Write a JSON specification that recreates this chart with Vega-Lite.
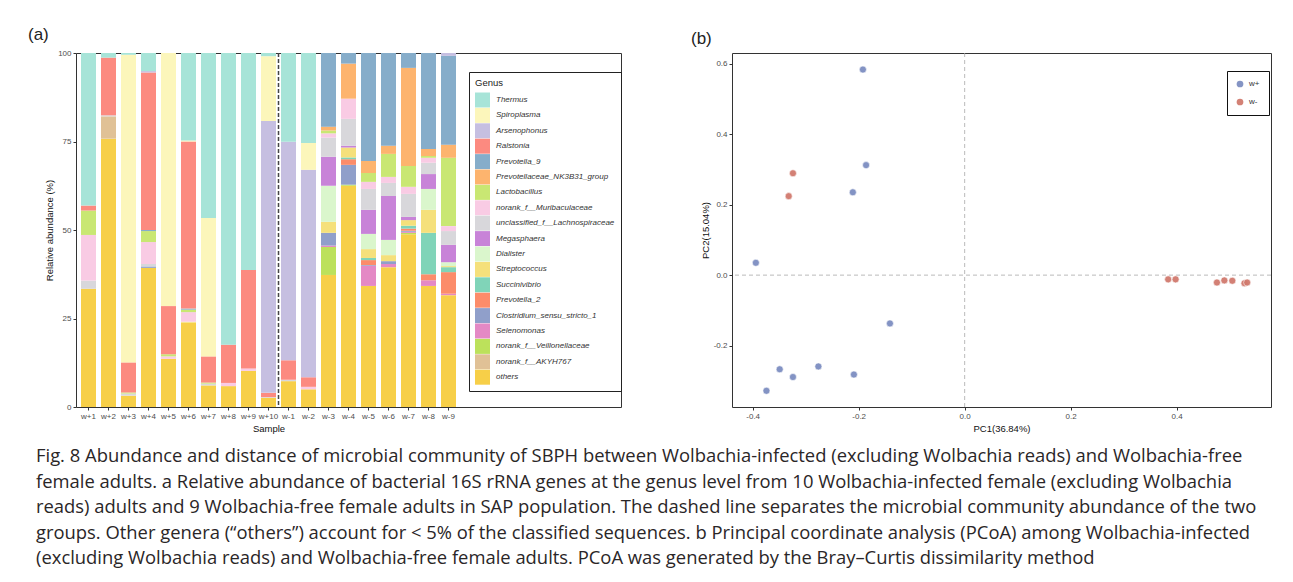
{
  "$schema": "https://vega.github.io/schema/vega-lite/v6.json",
  "padding": {"left": 27, "top": 25, "right": 18, "bottom": 2},
  "background": "white",
  "config": {
    "font": "Liberation Sans",
    "view": {"stroke": "#333333", "strokeWidth": 1},
    "axis": {"domain": false, "grid": false, "tickColor": "#333333", "tickSize": 3, "labelColor": "#4D4D4D", "labelFontSize": 8, "titleFontSize": 9.5, "titleFontWeight": "normal", "titleColor": "#111111", "labelPadding": 2, "titlePadding": 3, "labelOverlap": false},
    "title": {"fontWeight": "normal"}
  },
  "title": {
    "text": [
      "Fig. 8 Abundance and distance of microbial community of SBPH between Wolbachia-infected (excluding Wolbachia reads) and Wolbachia-free",
      "female adults. a Relative abundance of bacterial 16S rRNA genes at the genus level from 10 Wolbachia-infected female (excluding Wolbachia",
      "reads) adults and 9 Wolbachia-free female adults in SAP population. The dashed line separates the microbial community abundance of the two",
      "groups. Other genera (“others”) account for < 5% of the classified sequences. b Principal coordinate analysis (PCoA) among Wolbachia-infected",
      "(excluding Wolbachia reads) and Wolbachia-free female adults. PCoA was generated by the Bray–Curtis dissimilarity method"
    ],
    "orient": "bottom", "anchor": "start", "frame": "group", "dx": -40, "offset": 14,
    "font": "Open Sans", "fontSize": 18.4, "lineHeight": 25.6, "color": "#2A2627", "fontWeight": "normal"
  },
  "datasets": {
    "bars": [
      {"sample": "w+1", "genus": "others", "abundance": 33.4},
      {"sample": "w+1", "genus": "unclassified_f__Lachnospiraceae", "abundance": 2.3},
      {"sample": "w+1", "genus": "norank_f__Muribaculaceae", "abundance": 12.9},
      {"sample": "w+1", "genus": "Lactobacillus", "abundance": 6.9},
      {"sample": "w+1", "genus": "Ralstonia", "abundance": 1.4},
      {"sample": "w+1", "genus": "Thermus", "abundance": 43.1},
      {"sample": "w+2", "genus": "others", "abundance": 75.8},
      {"sample": "w+2", "genus": "norank_f__AKYH767", "abundance": 6.3},
      {"sample": "w+2", "genus": "unclassified_f__Lachnospiraceae", "abundance": 0.3},
      {"sample": "w+2", "genus": "Ralstonia", "abundance": 16.3},
      {"sample": "w+2", "genus": "Thermus", "abundance": 1.3},
      {"sample": "w+3", "genus": "others", "abundance": 3.2},
      {"sample": "w+3", "genus": "unclassified_f__Lachnospiraceae", "abundance": 0.6},
      {"sample": "w+3", "genus": "Lactobacillus", "abundance": 0.3},
      {"sample": "w+3", "genus": "Ralstonia", "abundance": 8.5},
      {"sample": "w+3", "genus": "Spiroplasma", "abundance": 86.9},
      {"sample": "w+3", "genus": "Thermus", "abundance": 0.5},
      {"sample": "w+4", "genus": "others", "abundance": 39.3},
      {"sample": "w+4", "genus": "Clostridium_sensu_stricto_1", "abundance": 0.4},
      {"sample": "w+4", "genus": "unclassified_f__Lachnospiraceae", "abundance": 0.7},
      {"sample": "w+4", "genus": "norank_f__Muribaculaceae", "abundance": 6.2},
      {"sample": "w+4", "genus": "Lactobacillus", "abundance": 3.1},
      {"sample": "w+4", "genus": "Prevotella_9", "abundance": 0.3},
      {"sample": "w+4", "genus": "Ralstonia", "abundance": 44.5},
      {"sample": "w+4", "genus": "Arsenophonus", "abundance": 0.4},
      {"sample": "w+4", "genus": "Thermus", "abundance": 5.1},
      {"sample": "w+5", "genus": "others", "abundance": 13.6},
      {"sample": "w+5", "genus": "norank_f__Muribaculaceae", "abundance": 0.7},
      {"sample": "w+5", "genus": "Lactobacillus", "abundance": 0.6},
      {"sample": "w+5", "genus": "Ralstonia", "abundance": 13.6},
      {"sample": "w+5", "genus": "Spiroplasma", "abundance": 71.5},
      {"sample": "w+6", "genus": "others", "abundance": 23.8},
      {"sample": "w+6", "genus": "Streptococcus", "abundance": 0.3},
      {"sample": "w+6", "genus": "norank_f__Muribaculaceae", "abundance": 2.7},
      {"sample": "w+6", "genus": "Lactobacillus", "abundance": 0.7},
      {"sample": "w+6", "genus": "Prevotella_9", "abundance": 0.3},
      {"sample": "w+6", "genus": "Ralstonia", "abundance": 47.2},
      {"sample": "w+6", "genus": "Spiroplasma", "abundance": 0.3},
      {"sample": "w+6", "genus": "Thermus", "abundance": 24.7},
      {"sample": "w+7", "genus": "others", "abundance": 6.1},
      {"sample": "w+7", "genus": "unclassified_f__Lachnospiraceae", "abundance": 0.5},
      {"sample": "w+7", "genus": "Lactobacillus", "abundance": 0.3},
      {"sample": "w+7", "genus": "Ralstonia", "abundance": 7.4},
      {"sample": "w+7", "genus": "Spiroplasma", "abundance": 39.1},
      {"sample": "w+7", "genus": "Thermus", "abundance": 46.6},
      {"sample": "w+8", "genus": "others", "abundance": 5.9},
      {"sample": "w+8", "genus": "norank_f__Muribaculaceae", "abundance": 0.9},
      {"sample": "w+8", "genus": "Ralstonia", "abundance": 10.8},
      {"sample": "w+8", "genus": "Thermus", "abundance": 82.4},
      {"sample": "w+9", "genus": "others", "abundance": 10.2},
      {"sample": "w+9", "genus": "norank_f__Muribaculaceae", "abundance": 0.7},
      {"sample": "w+9", "genus": "Ralstonia", "abundance": 27.8},
      {"sample": "w+9", "genus": "Thermus", "abundance": 61.3},
      {"sample": "w+10", "genus": "others", "abundance": 2.6},
      {"sample": "w+10", "genus": "unclassified_f__Lachnospiraceae", "abundance": 0.2},
      {"sample": "w+10", "genus": "Ralstonia", "abundance": 1.2},
      {"sample": "w+10", "genus": "Arsenophonus", "abundance": 76.8},
      {"sample": "w+10", "genus": "Spiroplasma", "abundance": 18.3},
      {"sample": "w+10", "genus": "Thermus", "abundance": 0.9},
      {"sample": "w-1", "genus": "others", "abundance": 7.3},
      {"sample": "w-1", "genus": "unclassified_f__Lachnospiraceae", "abundance": 0.4},
      {"sample": "w-1", "genus": "Ralstonia", "abundance": 5.5},
      {"sample": "w-1", "genus": "Arsenophonus", "abundance": 61.7},
      {"sample": "w-1", "genus": "Thermus", "abundance": 25.1},
      {"sample": "w-2", "genus": "others", "abundance": 5.0},
      {"sample": "w-2", "genus": "norank_f__Muribaculaceae", "abundance": 0.7},
      {"sample": "w-2", "genus": "Ralstonia", "abundance": 2.7},
      {"sample": "w-2", "genus": "Arsenophonus", "abundance": 58.6},
      {"sample": "w-2", "genus": "Spiroplasma", "abundance": 7.6},
      {"sample": "w-2", "genus": "Thermus", "abundance": 25.4},
      {"sample": "w-3", "genus": "others", "abundance": 37.3},
      {"sample": "w-3", "genus": "norank_f__Veillonellaceae", "abundance": 7.9},
      {"sample": "w-3", "genus": "Selenomonas", "abundance": 0.4},
      {"sample": "w-3", "genus": "Clostridium_sensu_stricto_1", "abundance": 3.6},
      {"sample": "w-3", "genus": "Streptococcus", "abundance": 3.1},
      {"sample": "w-3", "genus": "Dialister", "abundance": 10.2},
      {"sample": "w-3", "genus": "Megasphaera", "abundance": 8.2},
      {"sample": "w-3", "genus": "unclassified_f__Lachnospiraceae", "abundance": 5.4},
      {"sample": "w-3", "genus": "norank_f__Muribaculaceae", "abundance": 1.2},
      {"sample": "w-3", "genus": "Lactobacillus", "abundance": 0.8},
      {"sample": "w-3", "genus": "Prevotellaceae_NK3B31_group", "abundance": 1.1},
      {"sample": "w-3", "genus": "Prevotella_9", "abundance": 20.8},
      {"sample": "w-4", "genus": "others", "abundance": 62.5},
      {"sample": "w-4", "genus": "norank_f__Veillonellaceae", "abundance": 0.3},
      {"sample": "w-4", "genus": "Clostridium_sensu_stricto_1", "abundance": 5.6},
      {"sample": "w-4", "genus": "Prevotella_2", "abundance": 1.6},
      {"sample": "w-4", "genus": "Succinivibrio", "abundance": 0.5},
      {"sample": "w-4", "genus": "Streptococcus", "abundance": 2.8},
      {"sample": "w-4", "genus": "Megasphaera", "abundance": 0.5},
      {"sample": "w-4", "genus": "unclassified_f__Lachnospiraceae", "abundance": 7.6},
      {"sample": "w-4", "genus": "norank_f__Muribaculaceae", "abundance": 5.7},
      {"sample": "w-4", "genus": "Prevotellaceae_NK3B31_group", "abundance": 9.9},
      {"sample": "w-4", "genus": "Prevotella_9", "abundance": 3.0},
      {"sample": "w-5", "genus": "others", "abundance": 34.2},
      {"sample": "w-5", "genus": "Selenomonas", "abundance": 5.7},
      {"sample": "w-5", "genus": "Clostridium_sensu_stricto_1", "abundance": 0.2},
      {"sample": "w-5", "genus": "Prevotella_2", "abundance": 1.4},
      {"sample": "w-5", "genus": "Succinivibrio", "abundance": 0.6},
      {"sample": "w-5", "genus": "Streptococcus", "abundance": 2.5},
      {"sample": "w-5", "genus": "Dialister", "abundance": 4.3},
      {"sample": "w-5", "genus": "Megasphaera", "abundance": 6.8},
      {"sample": "w-5", "genus": "unclassified_f__Lachnospiraceae", "abundance": 5.9},
      {"sample": "w-5", "genus": "norank_f__Muribaculaceae", "abundance": 2.0},
      {"sample": "w-5", "genus": "Lactobacillus", "abundance": 2.5},
      {"sample": "w-5", "genus": "Prevotellaceae_NK3B31_group", "abundance": 3.4},
      {"sample": "w-5", "genus": "Prevotella_9", "abundance": 30.5},
      {"sample": "w-6", "genus": "others", "abundance": 39.5},
      {"sample": "w-6", "genus": "Selenomonas", "abundance": 0.9},
      {"sample": "w-6", "genus": "Clostridium_sensu_stricto_1", "abundance": 0.8},
      {"sample": "w-6", "genus": "Streptococcus", "abundance": 1.7},
      {"sample": "w-6", "genus": "Dialister", "abundance": 4.3},
      {"sample": "w-6", "genus": "Megasphaera", "abundance": 12.4},
      {"sample": "w-6", "genus": "unclassified_f__Lachnospiraceae", "abundance": 3.7},
      {"sample": "w-6", "genus": "norank_f__Muribaculaceae", "abundance": 1.7},
      {"sample": "w-6", "genus": "Lactobacillus", "abundance": 6.5},
      {"sample": "w-6", "genus": "Prevotellaceae_NK3B31_group", "abundance": 2.3},
      {"sample": "w-6", "genus": "Prevotella_9", "abundance": 26.2},
      {"sample": "w-7", "genus": "others", "abundance": 48.8},
      {"sample": "w-7", "genus": "norank_f__Veillonellaceae", "abundance": 0.4},
      {"sample": "w-7", "genus": "Selenomonas", "abundance": 0.3},
      {"sample": "w-7", "genus": "Clostridium_sensu_stricto_1", "abundance": 0.3},
      {"sample": "w-7", "genus": "Prevotella_2", "abundance": 0.6},
      {"sample": "w-7", "genus": "Succinivibrio", "abundance": 0.8},
      {"sample": "w-7", "genus": "Streptococcus", "abundance": 1.6},
      {"sample": "w-7", "genus": "Megasphaera", "abundance": 0.9},
      {"sample": "w-7", "genus": "unclassified_f__Lachnospiraceae", "abundance": 6.5},
      {"sample": "w-7", "genus": "norank_f__Muribaculaceae", "abundance": 2.0},
      {"sample": "w-7", "genus": "Lactobacillus", "abundance": 5.9},
      {"sample": "w-7", "genus": "Prevotellaceae_NK3B31_group", "abundance": 27.7},
      {"sample": "w-7", "genus": "Prevotella_9", "abundance": 4.2},
      {"sample": "w-8", "genus": "others", "abundance": 34.2},
      {"sample": "w-8", "genus": "Selenomonas", "abundance": 1.6},
      {"sample": "w-8", "genus": "Prevotella_2", "abundance": 1.7},
      {"sample": "w-8", "genus": "Succinivibrio", "abundance": 11.7},
      {"sample": "w-8", "genus": "Streptococcus", "abundance": 6.5},
      {"sample": "w-8", "genus": "Dialister", "abundance": 5.9},
      {"sample": "w-8", "genus": "Megasphaera", "abundance": 4.2},
      {"sample": "w-8", "genus": "unclassified_f__Lachnospiraceae", "abundance": 3.2},
      {"sample": "w-8", "genus": "norank_f__Muribaculaceae", "abundance": 1.4},
      {"sample": "w-8", "genus": "Lactobacillus", "abundance": 0.5},
      {"sample": "w-8", "genus": "Prevotellaceae_NK3B31_group", "abundance": 2.0},
      {"sample": "w-8", "genus": "Prevotella_9", "abundance": 27.1},
      {"sample": "w-9", "genus": "others", "abundance": 31.6},
      {"sample": "w-9", "genus": "Selenomonas", "abundance": 0.4},
      {"sample": "w-9", "genus": "Prevotella_2", "abundance": 6.1},
      {"sample": "w-9", "genus": "Succinivibrio", "abundance": 1.4},
      {"sample": "w-9", "genus": "Streptococcus", "abundance": 0.3},
      {"sample": "w-9", "genus": "Dialister", "abundance": 1.1},
      {"sample": "w-9", "genus": "Megasphaera", "abundance": 4.9},
      {"sample": "w-9", "genus": "unclassified_f__Lachnospiraceae", "abundance": 3.9},
      {"sample": "w-9", "genus": "norank_f__Muribaculaceae", "abundance": 1.4},
      {"sample": "w-9", "genus": "Lactobacillus", "abundance": 19.3},
      {"sample": "w-9", "genus": "Prevotellaceae_NK3B31_group", "abundance": 3.7},
      {"sample": "w-9", "genus": "Prevotella_9", "abundance": 25.1},
      {"sample": "w-9", "genus": "Arsenophonus", "abundance": 0.8}
    ],
    "points": [
      {"group": "w+", "PC1": -0.192, "PC2": 0.583},
      {"group": "w+", "PC1": -0.186, "PC2": 0.312},
      {"group": "w+", "PC1": -0.211, "PC2": 0.235},
      {"group": "w+", "PC1": -0.394, "PC2": 0.035},
      {"group": "w+", "PC1": -0.141, "PC2": -0.137},
      {"group": "w+", "PC1": -0.349, "PC2": -0.267},
      {"group": "w+", "PC1": -0.374, "PC2": -0.328},
      {"group": "w+", "PC1": -0.324, "PC2": -0.289},
      {"group": "w+", "PC1": -0.276, "PC2": -0.259},
      {"group": "w+", "PC1": -0.209, "PC2": -0.282},
      {"group": "w-", "PC1": -0.324, "PC2": 0.289},
      {"group": "w-", "PC1": -0.332, "PC2": 0.224},
      {"group": "w-", "PC1": 0.384, "PC2": -0.012},
      {"group": "w-", "PC1": 0.398, "PC2": -0.012},
      {"group": "w-", "PC1": 0.476, "PC2": -0.021},
      {"group": "w-", "PC1": 0.490, "PC2": -0.015},
      {"group": "w-", "PC1": 0.505, "PC2": -0.016},
      {"group": "w-", "PC1": 0.528, "PC2": -0.023},
      {"group": "w-", "PC1": 0.533, "PC2": -0.021}
    ]
  },
  "spacing": 68,
  "resolve": {"scale": {"color": "independent"}, "legend": {"color": "independent"}},
  "hconcat": [
    {
      "width": 545,
      "height": 354,
      "title": {"text": "(a)", "anchor": "start", "frame": "group", "dx": -48, "offset": 5, "fontSize": 17, "font": "Liberation Sans", "color": "#222222", "fontWeight": "normal"},
      "layer": [
        {
          "data": {"name": "bars"},
          "transform": [
            {"calculate": "indexof(['Thermus','Spiroplasma','Arsenophonus','Ralstonia','Prevotella_9','Prevotellaceae_NK3B31_group','Lactobacillus','norank_f__Muribaculaceae','unclassified_f__Lachnospiraceae','Megasphaera','Dialister','Streptococcus','Succinivibrio','Prevotella_2','Clostridium_sensu_stricto_1','Selenomonas','norank_f__Veillonellaceae','norank_f__AKYH767','others'], datum.genus)", "as": "rank"}
          ],
          "mark": {"type": "bar"},
          "encoding": {
            "x": {"field": "sample", "type": "nominal",
                  "scale": {"domain": ["w+1","w+2","w+3","w+4","w+5","w+6","w+7","w+8","w+9","w+10","w-1","w-2","w-3","w-4","w-5","w-6","w-7","w-8","w-9"], "range": [0, 385], "paddingInner": 0.25, "paddingOuter": 0.25},
                  "axis": {"title": "Sample", "labelAngle": 0}},
            "y": {"field": "abundance", "type": "quantitative", "stack": "zero",
                  "scale": {"domain": [0, 100], "nice": false},
                  "axis": {"title": "Relative abundance (%)", "values": [0, 25, 50, 75, 100]}},
            "color": {"field": "genus", "type": "nominal",
                      "scale": {"domain": ["Thermus","Spiroplasma","Arsenophonus","Ralstonia","Prevotella_9","Prevotellaceae_NK3B31_group","Lactobacillus","norank_f__Muribaculaceae","unclassified_f__Lachnospiraceae","Megasphaera","Dialister","Streptococcus","Succinivibrio","Prevotella_2","Clostridium_sensu_stricto_1","Selenomonas","norank_f__Veillonellaceae","norank_f__AKYH767","others"],
                                "range": ["#A7E4D8","#FCF6BB","#C6BFE1","#FC8A80","#86ADCA","#FDB46E","#C9E773","#F9CBE4","#D8D7DB","#C883D8","#DAF6CC","#F5E07B","#80D4B8","#FC8C6A","#909FCA","#E489C5","#BCE15B","#E0C196","#F7CF48"]},
                      "legend": {"title": "Genus", "orient": "none", "legendX": 393, "legendY": 19, "symbolType": "square", "symbolSize": 225, "symbolStrokeWidth": 0, "symbolOpacity": 1, "labelFontStyle": "italic", "labelFontSize": 8, "labelColor": "#333333", "titleFontSize": 9.5, "titleFontWeight": "normal", "titleColor": "#222222", "padding": 6, "strokeColor": "#222222", "rowPadding": 0.4, "labelOffset": 6, "titlePadding": 5, "labelLimit": 250}},
            "order": {"field": "rank", "type": "quantitative", "sort": "descending"}
          }
        },
        {
          "data": {"values": [{}]},
          "mark": {"type": "rule", "strokeDash": [4, 2], "color": "#444444", "strokeWidth": 1.5},
          "encoding": {"x": {"datum": "w+10", "type": "nominal", "bandPosition": 1.1667}}
        }
      ]
    },
    {
      "width": 539,
      "height": 354,
      "title": {"text": "(b)", "anchor": "start", "frame": "group", "dx": -41, "offset": 5, "fontSize": 17, "font": "Liberation Sans", "color": "#222222", "fontWeight": "normal"},
      "layer": [
        {
          "data": {"values": [{}]},
          "mark": {"type": "rule", "strokeDash": [4, 3], "color": "#AAAAAA", "strokeWidth": 0.8},
          "encoding": {"x": {"datum": 0, "type": "quantitative"}}
        },
        {
          "data": {"values": [{}]},
          "mark": {"type": "rule", "strokeDash": [4, 3], "color": "#AAAAAA", "strokeWidth": 0.8},
          "encoding": {"y": {"datum": 0, "type": "quantitative"}}
        },
        {
          "data": {"name": "points"},
          "mark": {"type": "circle", "size": 50, "opacity": 0.95, "stroke": "#FFFFFF", "strokeWidth": 0.6},
          "encoding": {
            "x": {"field": "PC1", "type": "quantitative",
                  "scale": {"domain": [-0.439, 0.578], "nice": false, "zero": false},
                  "axis": {"title": "PC1(36.84%)", "values": [-0.4, -0.2, 0, 0.2, 0.4], "labelExpr": "replace(format(datum.value, '.1f'), '\u2212', '-')"}},
            "y": {"field": "PC2", "type": "quantitative",
                  "scale": {"domain": [-0.374, 0.63], "nice": false, "zero": false},
                  "axis": {"title": "PC2(15.04%)", "values": [-0.2, 0, 0.2, 0.4, 0.6], "labelExpr": "replace(format(datum.value, '.1f'), '\u2212', '-')"}},
            "color": {"field": "group", "type": "nominal",
                      "scale": {"domain": ["w+", "w-"], "range": ["#7D8EC1", "#D17A6E"]},
                      "legend": {"title": null, "orient": "none", "legendX": 495, "legendY": 18, "symbolType": "circle", "symbolSize": 45, "symbolStrokeWidth": 0, "symbolOpacity": 0.95, "labelFontSize": 8, "labelColor": "#333333", "padding": 9, "strokeColor": "#111111", "rowPadding": 10, "labelOffset": 5}}
          }
        }
      ]
    }
  ]
}
